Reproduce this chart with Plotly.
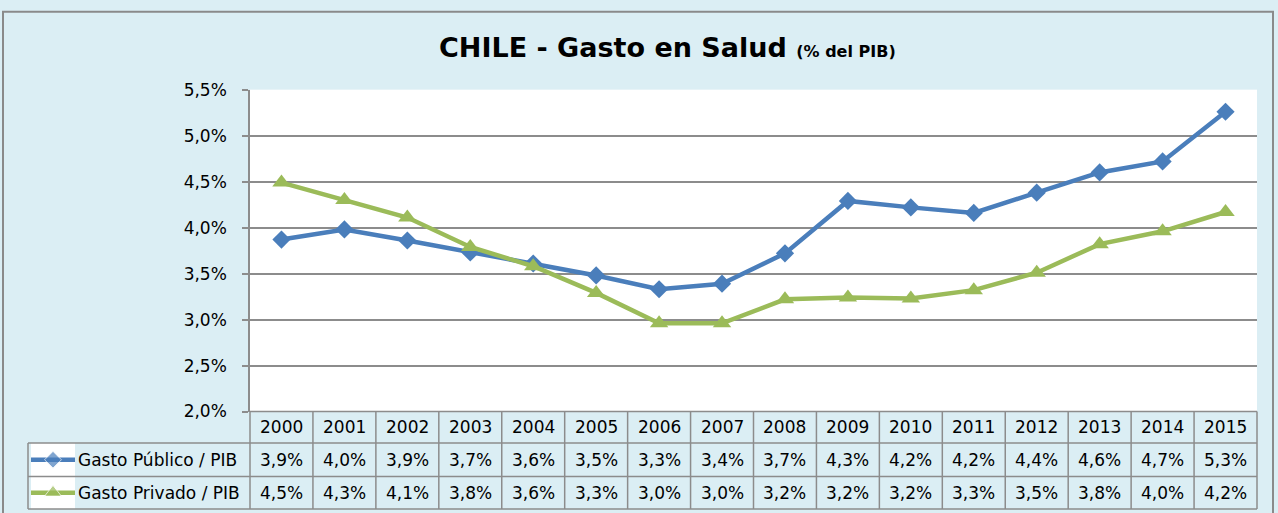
import plotly.graph_objects as go

years = [2000, 2001, 2002, 2003, 2004, 2005, 2006, 2007, 2008, 2009, 2010, 2011, 2012, 2013, 2014, 2015]
gasto_publico = [3.87, 3.98, 3.86, 3.73, 3.61, 3.48, 3.33, 3.39, 3.72, 4.29, 4.22, 4.16, 4.38, 4.60, 4.72, 5.26]
gasto_privado = [4.49, 4.30, 4.11, 3.79, 3.58, 3.29, 2.96, 2.96, 3.22, 3.24, 3.23, 3.32, 3.51, 3.82, 3.96, 4.17]
series_names = ["Gasto Público / PIB", "Gasto Privado / PIB"]
y_ticks = [2.0, 2.5, 3.0, 3.5, 4.0, 4.5, 5.0, 5.5]
title_main = "CHILE - Gasto en Salud"
title_sub = "(% del PIB)"

W, H = 1278, 535
# vertical correction observed between page pixels and captured picture
SY, OY = 0.963, 9.3
BLUE = "#4A7EBB"
GREEN = "#9BBB59"
BG = "#DBEEF4"
GRID = "#8C8C8C"
FONT = "DejaVu Sans"

def fx(p):
    return p / W

def fy(p):
    page = (p - OY) / SY
    return min(1.0, max(0.0, 1 - page / H))

def pct(v):
    return f"{v:.1f}".replace(".", ",") + "%"

PL, PR, PT, PB = 250, 1257, 89, 411
ROW1, ROW2, ROW3 = 442.5, 476.0, 508.5
TL = 28

fig = go.Figure()

fig.add_trace(go.Scatter(
    x=years, y=gasto_publico, mode="lines+markers", name=series_names[0],
    line=dict(color=BLUE, width=4.5),
    marker=dict(symbol="diamond", size=14, color=BLUE),
    showlegend=False, cliponaxis=False,
))
fig.add_trace(go.Scatter(
    x=years, y=gasto_privado, mode="lines+markers", name=series_names[1],
    line=dict(color=GREEN, width=4.5),
    marker=dict(symbol="triangle-up", size=16, color=GREEN),
    showlegend=False, cliponaxis=False,
))

key_rows = [(ROW1 + ROW2) / 2, (ROW2 + ROW3) / 2]
for i, (name, color, sym, ms) in enumerate([
    (series_names[0], BLUE, "diamond", 13),
    (series_names[1], GREEN, "triangle-up", 15),
]):
    yk = 1 - (key_rows[i] - ROW1) / (ROW3 - ROW1)
    fig.add_trace(go.Scatter(
        x=[0, 0.5, 1], y=[yk, yk, yk], mode="lines+markers",
        line=dict(color=color, width=4.5),
        marker=dict(symbol=sym, size=[0, ms, 0], color=color),
        xaxis="x2", yaxis="y2", showlegend=False, hoverinfo="skip",
        cliponaxis=False,
    ))

shapes = []
ann = []

shapes.append(dict(type="rect", xref="paper", yref="paper",
                   x0=fx(3), x1=fx(1273), y0=fy(517), y1=fy(11),
                   line=dict(color="#8A8A8A", width=2), layer="below"))

line_style = dict(color=GRID, width=1.5)
shapes.append(dict(type="line", xref="paper", yref="paper", x0=fx(PL), x1=fx(PR),
                   y0=fy(PB), y1=fy(PB), line=line_style))
for yy in [ROW1, ROW2, ROW3]:
    shapes.append(dict(type="line", xref="paper", yref="paper", x0=fx(TL), x1=fx(PR),
                       y0=fy(yy), y1=fy(yy), line=line_style))
shapes.append(dict(type="line", xref="paper", yref="paper", x0=fx(TL), x1=fx(TL),
                   y0=fy(ROW1), y1=fy(ROW3), line=line_style))
n = len(years)
colw = (PR - PL) / n
for k in range(n + 1):
    xx = PL + k * colw
    shapes.append(dict(type="line", xref="paper", yref="paper", x0=fx(xx), x1=fx(xx),
                       y0=fy(PB), y1=fy(ROW3), line=line_style))

tfont = dict(family=FONT, size=17, color="#000000")
for k, yr in enumerate(years):
    xc = fx(PL + (k + 0.5) * colw)
    ann.append(dict(x=xc, y=fy((PB + ROW1) / 2), xref="paper", yref="paper",
                    text=str(yr), showarrow=False, font=tfont,
                    xanchor="center", yanchor="middle"))
    ann.append(dict(x=xc, y=fy((ROW1 + ROW2) / 2), xref="paper", yref="paper",
                    text=pct(gasto_publico[k]), showarrow=False, font=tfont,
                    xanchor="center", yanchor="middle"))
    ann.append(dict(x=xc, y=fy((ROW2 + ROW3) / 2), xref="paper", yref="paper",
                    text=pct(gasto_privado[k]), showarrow=False, font=tfont,
                    xanchor="center", yanchor="middle"))

for i, name in enumerate(series_names):
    ann.append(dict(x=fx(76), y=fy(key_rows[i]), xref="paper", yref="paper",
                    text=name, showarrow=False, font=tfont,
                    xanchor="left", yanchor="middle"))

ann.append(dict(x=fx(667), y=fy(47), xref="paper", yref="paper",
                text=f"<b>{title_main} </b><b><span style='font-size:16px'>{title_sub}</span></b>",
                showarrow=False, font=dict(family=FONT, size=27, color="#000000"),
                xanchor="center", yanchor="middle"))

fig.update_layout(
    width=W, height=H,
    margin=dict(l=0, r=0, t=0, b=0),
    paper_bgcolor=BG,
    plot_bgcolor="#FFFFFF",
    font=dict(family=FONT, size=17, color="#000000"),
    xaxis=dict(domain=[fx(PL), fx(PR)], range=[years[0] - 0.5, years[-1] + 0.5],
               showgrid=False, showticklabels=False, zeroline=False,
               showline=False, ticks=""),
    yaxis=dict(domain=[fy(PB), fy(PT)], range=[y_ticks[0], y_ticks[-1]],
               tickvals=y_ticks, ticktext=[pct(v) for v in y_ticks],
               showgrid=True, gridcolor=GRID, gridwidth=1.5,
               showline=True, linecolor=GRID, linewidth=1.5,
               ticks="outside", ticklen=6, tickcolor=GRID, tickwidth=1.5,
               ticklabelstandoff=12,
               zeroline=False, tickfont=dict(family=FONT, size=17, color="#000000")),
    xaxis2=dict(domain=[fx(31), fx(75)], range=[0, 1], visible=False, fixedrange=True),
    yaxis2=dict(domain=[fy(ROW3), fy(ROW1)], range=[0, 1], visible=False, fixedrange=True),
    shapes=shapes,
    annotations=ann,
)

fig.write_html("out.html", config={"displayModeBar": False},
               post_script="document.body.style.margin='0';document.body.style.overflow='hidden';")
